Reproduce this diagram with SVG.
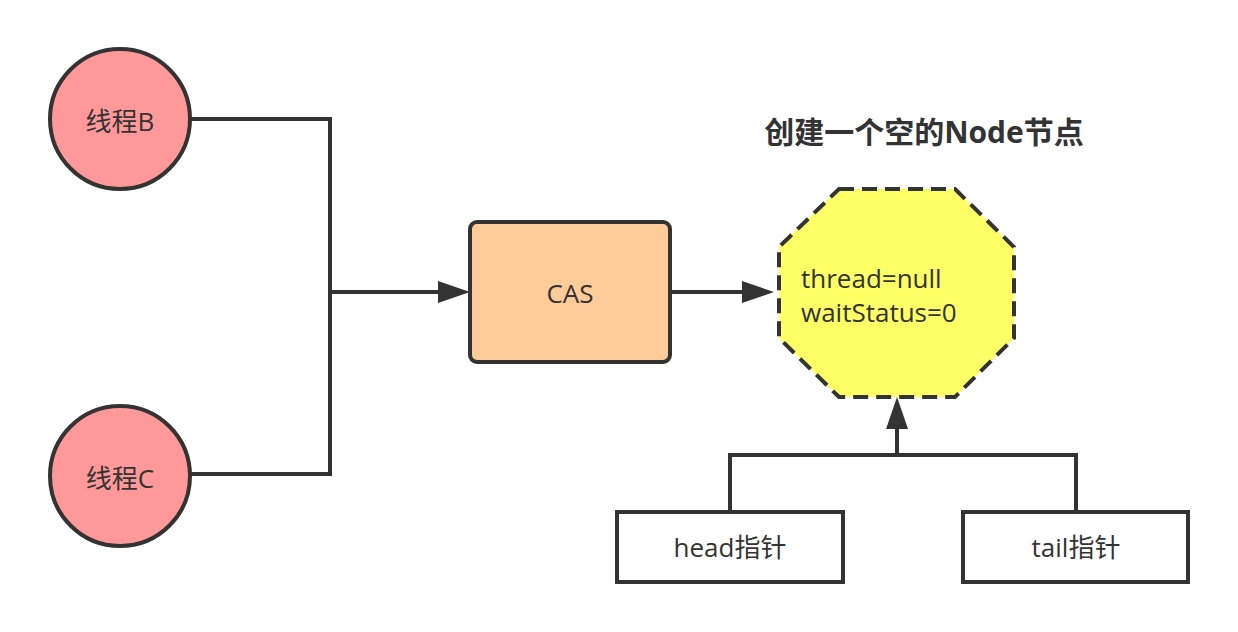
<svg xmlns="http://www.w3.org/2000/svg" width="1238" height="632" viewBox="0 0 1238 632">
<style>
.ln{fill:none;stroke:#333;stroke-width:4}
.t{font-family:"Open Sans","Noto Sans CJK SC",sans-serif;font-size:26px;fill:#333}
.c{text-anchor:middle}
.circ{fill:#FF9999;stroke:#333;stroke-width:4}
</style>
<defs>
<marker id="ah" markerUnits="userSpaceOnUse" markerWidth="32" markerHeight="22" refX="0" refY="11" orient="auto" overflow="visible">
<path d="M0,0 L32,11 L0,22 Z" fill="#333"/>
</marker>
</defs>
<rect width="1238" height="632" fill="#fff"/>
<g id="connectors">
<path class="ln" d="M190,119 H330 V474 H190"/>
<path class="ln" d="M330,292 H438" marker-end="url(#ah)"/>
<path class="ln" d="M671,292 H742" marker-end="url(#ah)"/>
<path class="ln" d="M730,511 V455 H1076 V511"/>
<path class="ln" d="M897,455 V429" marker-end="url(#ah)"/>
</g>
<g id="threadB">
<circle class="circ" cx="120" cy="119" r="70"/>
<text class="t c" x="120" y="131">线程B</text>
</g>
<g id="threadC">
<circle class="circ" cx="120" cy="476" r="70"/>
<text class="t c" x="120" y="488">线程C</text>
</g>
<g id="cas">
<rect x="470" y="222" width="200" height="140" rx="7" fill="#FFCC99" stroke="#333" stroke-width="4"/>
<text class="t c" x="570" y="303">CAS</text>
</g>
<g id="title">
<text x="924" y="143" text-anchor="middle" font-family="'Open Sans','Noto Sans CJK SC',sans-serif" font-size="30" font-weight="bold" fill="#333">创建一个空的Node节点</text>
</g>
<g id="node">
<polygon points="839,189 955,189 1014,247 1014,338 955,397 839,397 779,338 779,247" fill="#FFFF66" stroke="#333" stroke-width="4" stroke-dasharray="15,8"/>
<text class="t" x="801" y="288" font-size="24.5">thread=null</text>
<text class="t" x="801" y="322" font-size="24.5">waitStatus=0</text>
</g>
<g id="head">
<rect x="617" y="512" width="226" height="70" fill="#fff" stroke="#333" stroke-width="4"/>
<text class="t c" x="730" y="557">head指针</text>
</g>
<g id="tail">
<rect x="963" y="512" width="225" height="70" fill="#fff" stroke="#333" stroke-width="4"/>
<text class="t c" x="1076" y="557">tail指针</text>
</g>
</svg>
